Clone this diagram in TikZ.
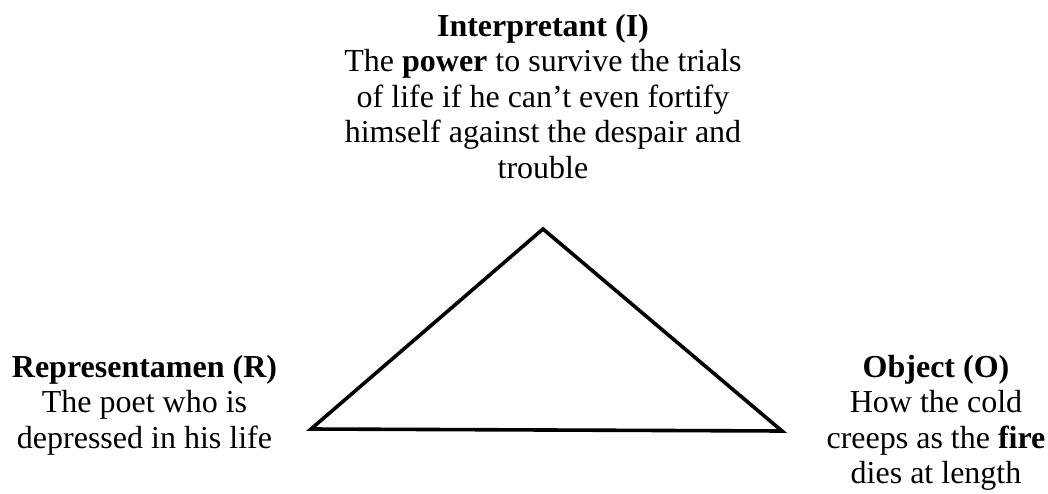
\documentclass[tikz,border=0pt]{standalone}
\usepackage{fontspec}
\setmainfont{Liberation Serif}
\begin{document}
\begin{tikzpicture}[x=1pt,y=-1pt,
  label text/.style={align=center,inner sep=0pt,anchor=north,
    font=\fontsize{32pt}{35.5pt}\selectfont},
  edge/.style={line width=3.6pt,line join=miter}]
\useasboundingbox (0,0) rectangle (1048,494);
\node[label text] (I) at (543,14) {\textbf{Interpretant (I)}\\The \textbf{power} to survive the trials\\of life if he can’t even fortify\\himself against the despair and\\trouble};
\node[label text] (R) at (144.5,355) {\textbf{Representamen (R)}\\The poet who is\\depressed in his life};
\node[label text] (O) at (936,355) {\textbf{Object (O)}\\How the cold\\creeps as the \textbf{fire}\\dies at length};
\coordinate (top) at (543,229);
\coordinate (left) at (311,429);
\coordinate (right) at (782,431);
\draw[edge] (left) -- (top) -- (right) -- cycle;
\end{tikzpicture}
\end{document}
